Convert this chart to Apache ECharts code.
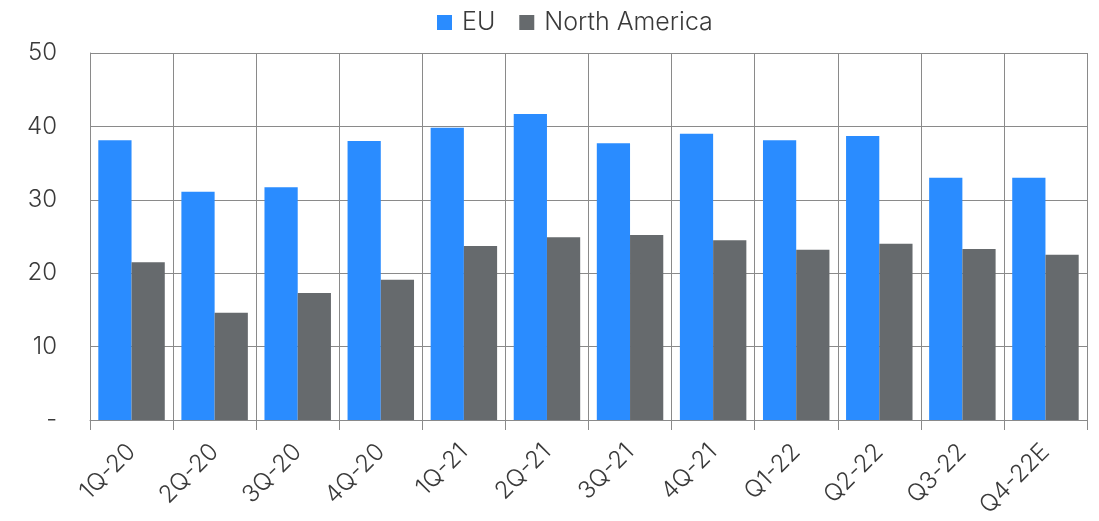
<!DOCTYPE html>
<html>
<head>
    <meta charset="utf-8">
    <title>EU vs North America</title>
    <script src="https://cdn.jsdelivr.net/npm/echarts@6/dist/echarts.min.js"></script>
    <style>
        html, body { margin: 0; padding: 0; background: #fff; }
    </style>
</head>
<body>
<div id="chart-container" style="width: 1099px; height: 521px;"></div>
<script>
    // categories (quarters)
    var quarters = ['1Q-20', '2Q-20', '3Q-20', '4Q-20', '1Q-21', '2Q-21', '3Q-21', '4Q-21', 'Q1-22', 'Q2-22', 'Q3-22', 'Q4-22E'];

    // series values
    var euValues = [38.1, 31.1, 31.7, 38.0, 39.8, 41.7, 37.7, 39.0, 38.1, 38.7, 33.0, 33.0];
    var naValues = [21.5, 14.6, 17.3, 19.1, 23.7, 24.9, 25.2, 24.5, 23.2, 24.0, 23.3, 22.5];

    var seriesNames = ['EU', 'North America'];
    var seriesColors = ['#2A8CFF', '#666A6D'];

    var fontFamily = 'Inter, "Noto Sans", sans-serif';
    var lineColor = '#8a8a8a';
    var textColor = '#3a3a3a';

    var option = {
        animation: false,
        textStyle: { fontFamily: fontFamily },
        legend: {
            data: seriesNames,
            top: 5,
            left: 432,
            icon: 'rect',
            itemWidth: 15,
            itemHeight: 15,
            itemGap: 24,
            textStyle: {
                color: textColor,
                fontSize: 25,
                fontWeight: 300,
                fontFamily: fontFamily,
                padding: [0, 0, 0, 5]
            }
        },
        grid: {
            left: 90,
            right: 12,
            top: 53,
            bottom: 101,
            containLabel: false,
            outerBoundsMode: 'none'
        },
        xAxis: {
            type: 'category',
            data: quarters,
            axisLine: { show: true, lineStyle: { color: lineColor, width: 1 } },
            axisTick: { show: true, length: 10, lineStyle: { color: lineColor } },
            splitLine: { show: true, lineStyle: { color: lineColor, width: 1 } },
            axisLabel: {
                color: textColor,
                fontSize: 24,
                fontWeight: 300,
                rotate: 45,
                margin: 28,
                interval: 0
            }
        },
        yAxis: {
            type: 'value',
            min: 0,
            max: 50,
            interval: 10,
            axisLine: { show: true, lineStyle: { color: lineColor } },
            axisTick: { show: false },
            splitLine: { show: true, lineStyle: { color: lineColor, width: 1 } },
            axisLabel: {
                color: textColor,
                fontSize: 24,
                fontWeight: 300,
                margin: 33,
                formatter: function (v) { return v === 0 ? '-' : String(v); }
            }
        },
        series: [
            {
                name: seriesNames[0],
                type: 'bar',
                data: euValues,
                barGap: '0%',
                barCategoryGap: '20%',
                itemStyle: { color: seriesColors[0] }
            },
            {
                name: seriesNames[1],
                type: 'bar',
                data: naValues,
                barGap: '0%',
                barCategoryGap: '20%',
                itemStyle: { color: seriesColors[1] }
            }
        ]
    };

    var chart = echarts.init(document.getElementById('chart-container'));
    chart.setOption(option);
</script>
</body>
</html>
